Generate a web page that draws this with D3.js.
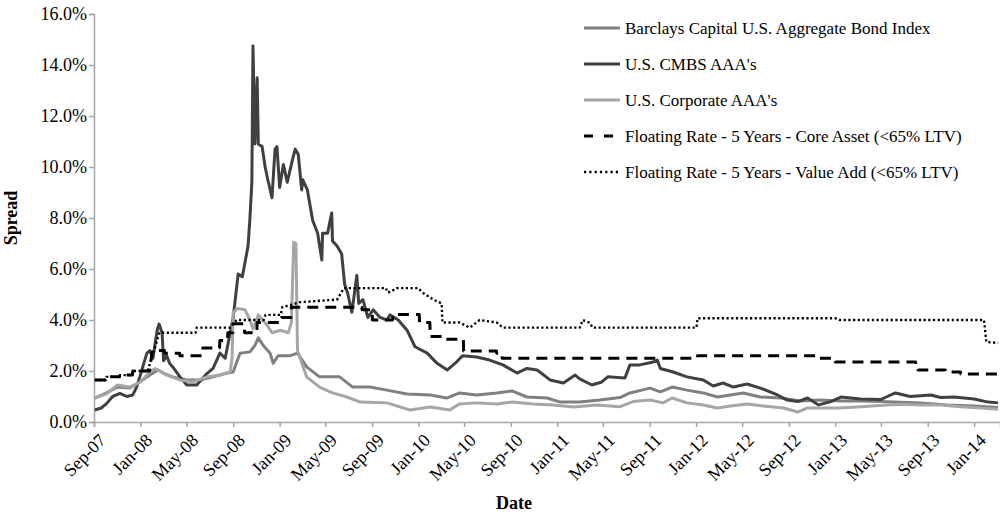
<!DOCTYPE html>
<html>
<head>
<meta charset="utf-8">
<script src="https://cdn.jsdelivr.net/npm/d3@7"></script>
<style>
  html, body { margin: 0; padding: 0; background: #fff; }
  svg { display: block; }
  text { font-family: "Liberation Serif", "Times New Roman", serif; fill: #000; }
</style>
</head>
<body>
<svg id="chart" width="1000" height="516"></svg>
<script>
const seriesNames = [
  "Barclays Capital U.S. Aggregate Bond Index",
  "U.S. CMBS AAA's",
  "U.S. Corporate AAA's",
  "Floating Rate - 5 Years - Core Asset (<65% LTV)",
  "Floating Rate - 5 Years - Value Add (<65% LTV)"
];
const yTicks = [0, 2, 4, 6, 8, 10, 12, 14, 16];
const xLabelFormat = "%b-%y";

const barclays = [["2007-09-03",0.94],["2007-10-04",1.14],["2007-11-01",1.37],["2007-12-04",1.33],["2007-12-30",1.57],["2008-01-26",1.84],["2008-02-16",2.04],["2008-03-01",1.92],["2008-03-26",1.77],["2008-05-02",1.65],["2008-06-05",1.65],["2008-07-10",1.77],["2008-08-16",1.92],["2008-09-01",1.96],["2008-09-09",2.3],["2008-09-19",2.7],["2008-10-15",2.75],["2008-10-28",3.0],["2008-11-06",3.3],["2008-11-19",3.0],["2008-12-07",2.7],["2008-12-15",2.3],["2008-12-28",2.6],["2009-01-29",2.6],["2009-02-17",2.7],["2009-03-13",2.16],["2009-04-16",1.77],["2009-06-08",1.77],["2009-07-12",1.37],["2009-08-26",1.37],["2009-10-10",1.25],["2009-12-02",1.1],["2010-02-01",1.06],["2010-03-16",0.94],["2010-04-19",1.14],["2010-06-03",1.06],["2010-07-26",1.14],["2010-09-04",1.22],["2010-10-13",0.98],["2010-12-05",0.94],["2011-01-09",0.78],["2011-03-01",0.78],["2011-04-23",0.86],["2011-06-15",0.96],["2011-07-11",1.14],["2011-09-02",1.33],["2011-09-29",1.18],["2011-10-30",1.37],["2011-12-08",1.25],["2012-01-20",1.14],["2012-02-26",0.98],["2012-03-31",1.06],["2012-05-04",1.14],["2012-06-18",0.98],["2012-08-10",0.94],["2012-10-01",0.82],["2012-11-23",0.86],["2013-01-16",0.82],["2013-03-08",0.82],["2013-04-30",0.8],["2013-06-21",0.77],["2013-08-13",0.75],["2013-10-23",0.67],["2014-01-01",0.63],["2014-03-05",0.57]];

const cmbs = [["2007-09-03",0.47],["2007-09-20",0.55],["2007-10-04",0.72],["2007-10-20",1.0],["2007-11-08",1.12],["2007-11-26",1.0],["2007-12-12",1.06],["2007-12-22",1.37],["2007-12-30",1.75],["2008-01-18",2.7],["2008-01-26",2.8],["2008-02-03",2.5],["2008-02-14",3.6],["2008-02-19",3.84],["2008-02-27",3.5],["2008-03-02",2.4],["2008-03-10",2.6],["2008-03-18",2.3],["2008-03-26",2.16],["2008-04-14",1.77],["2008-05-02",1.45],["2008-05-28",1.45],["2008-06-24",1.9],["2008-07-10",2.1],["2008-07-28",2.7],["2008-08-11",2.5],["2008-08-24",3.5],["2008-09-01",4.1],["2008-09-14",5.8],["2008-09-25",5.7],["2008-10-10",6.9],["2008-10-15",8.0],["2008-10-20",9.4],["2008-10-23",14.75],["2008-10-28",10.9],["2008-11-03",13.5],["2008-11-06",10.9],["2008-11-16",10.8],["2008-11-24",10.0],["2008-12-01",9.5],["2008-12-12",8.8],["2008-12-20",10.7],["2008-12-25",10.8],["2009-01-01",9.2],["2009-01-11",10.1],["2009-01-21",9.4],["2009-02-04",10.3],["2009-02-11",10.7],["2009-02-19",10.5],["2009-02-28",9.1],["2009-03-03",9.5],["2009-03-15",9.1],["2009-03-29",7.9],["2009-04-11",7.4],["2009-04-22",6.35],["2009-04-24",7.4],["2009-05-07",7.4],["2009-05-18",8.2],["2009-05-20",7.1],["2009-06-01",6.9],["2009-06-13",6.6],["2009-06-21",5.4],["2009-06-29",5.05],["2009-07-10",4.3],["2009-07-23",5.75],["2009-07-28",4.65],["2009-08-08",4.8],["2009-08-21",4.1],["2009-09-04",4.4],["2009-09-22",4.1],["2009-10-10",4.0],["2009-10-18",4.2],["2009-11-09",4.0],["2009-12-02",3.6],["2009-12-23",2.95],["2010-01-24",2.7],["2010-02-19",2.3],["2010-03-18",2.04],["2010-04-11",2.35],["2010-04-27",2.6],["2010-06-03",2.55],["2010-07-07",2.43],["2010-08-11",2.24],["2010-09-17",1.92],["2010-10-13",2.1],["2010-11-09",2.04],["2010-12-13",1.65],["2011-01-17",1.53],["2011-02-17",1.84],["2011-03-01",1.69],["2011-04-02",1.45],["2011-04-28",1.57],["2011-05-14",1.77],["2011-06-28",1.73],["2011-07-11",2.24],["2011-08-06",2.24],["2011-09-10",2.35],["2011-09-21",2.43],["2011-09-29",2.1],["2011-11-02",1.96],["2011-12-08",1.77],["2012-01-20",1.65],["2012-02-15",1.41],["2012-03-12",1.53],["2012-04-08",1.37],["2012-05-14",1.49],["2012-06-18",1.33],["2012-08-02",1.06],["2012-08-28",0.86],["2012-09-24",0.8],["2012-10-20",0.94],["2012-11-18",0.67],["2012-12-20",0.8],["2013-01-16",0.98],["2013-03-08",0.9],["2013-04-30",0.88],["2013-05-18",1.0],["2013-06-08",1.14],["2013-07-17",1.0],["2013-09-09",1.06],["2013-10-05",0.96],["2013-11-09",0.98],["2014-01-01",0.9],["2014-02-07",0.78],["2014-03-05",0.75]];

const corporate = [["2007-09-03",0.94],["2007-10-04",1.1],["2007-11-01",1.45],["2007-12-04",1.37],["2007-12-30",1.55],["2008-01-26",1.96],["2008-02-09",2.1],["2008-03-10",1.84],["2008-04-14",1.65],["2008-05-18",1.57],["2008-06-24",1.77],["2008-07-28",1.84],["2008-08-24",1.96],["2008-08-29",2.5],["2008-09-01",4.3],["2008-09-12",4.45],["2008-10-02",4.4],["2008-10-15",4.0],["2008-10-23",3.65],["2008-11-06",4.2],["2008-11-29",3.8],["2008-12-12",3.5],["2009-01-03",3.6],["2009-01-24",3.5],["2009-02-01",3.9],["2009-02-07",7.05],["2009-02-13",7.0],["2009-02-17",2.8],["2009-02-24",2.5],["2009-03-13",1.77],["2009-04-16",1.37],["2009-05-20",1.14],["2009-06-27",0.98],["2009-08-01",0.78],["2009-10-10",0.75],["2009-12-10",0.47],["2010-02-01",0.59],["2010-03-24",0.47],["2010-04-19",0.71],["2010-06-03",0.75],["2010-07-26",0.71],["2010-09-04",0.78],["2010-10-30",0.71],["2010-12-21",0.67],["2011-02-13",0.59],["2011-04-15",0.67],["2011-06-15",0.6],["2011-07-19",0.8],["2011-09-02",0.86],["2011-10-06",0.75],["2011-10-30",0.94],["2011-12-08",0.75],["2012-01-20",0.67],["2012-02-26",0.55],["2012-03-31",0.63],["2012-05-14",0.71],["2012-06-26",0.63],["2012-08-18",0.55],["2012-09-24",0.39],["2012-10-20",0.55],["2012-11-16",0.55],["2013-01-08",0.55],["2013-02-28",0.59],["2013-05-18",0.67],["2013-06-21",0.7],["2013-08-13",0.67],["2013-10-05",0.67],["2013-11-27",0.6],["2014-01-19",0.55],["2014-03-05",0.5]];

const coreAsset = [["2007-09-03",1.65],["2007-10-03",1.65],["2007-10-04",1.77],["2007-11-07",1.77],["2007-11-08",1.84],["2007-12-11",1.84],["2007-12-12",2.0],["2008-01-25",2.0],["2008-02-01",2.8],["2008-03-04",2.8],["2008-03-05",2.7],["2008-04-13",2.7],["2008-04-14",2.6],["2008-06-12",2.6],["2008-06-13",2.9],["2008-07-27",2.9],["2008-07-28",3.2],["2008-08-17",3.2],["2008-08-18",3.5],["2008-08-31",3.5],["2008-09-01",3.85],["2008-09-30",3.85],["2008-10-01",3.5],["2008-11-02",3.5],["2008-11-03",3.9],["2009-01-05",3.9],["2009-01-06",4.1],["2009-01-31",4.1],["2009-02-01",4.5],["2009-08-05",4.5],["2009-08-06",4.4],["2009-09-01",4.4],["2009-09-02",4.0],["2009-10-25",4.0],["2009-10-26",4.22],["2010-01-03",4.22],["2010-01-04",3.9],["2010-01-31",3.9],["2010-02-01",3.35],["2010-03-05",3.35],["2010-03-06",3.25],["2010-04-29",3.25],["2010-04-30",2.78],["2010-07-25",2.78],["2010-07-26",2.7],["2010-08-08",2.7],["2010-08-09",2.5],["2012-01-04",2.5],["2012-01-05",2.6],["2012-11-17",2.6],["2012-11-18",2.5],["2012-12-31",2.5],["2013-01-01",2.35],["2013-07-31",2.35],["2013-08-01",2.2],["2013-08-05",2.2],["2013-08-06",2.04],["2013-10-17",2.04],["2013-10-18",1.96],["2013-11-26",1.96],["2013-11-27",1.88],["2014-03-05",1.88]];

const valueAdd = [["2007-09-03",1.65],["2007-10-03",1.65],["2007-10-04",1.77],["2007-11-07",1.77],["2007-11-08",1.84],["2007-12-11",1.84],["2007-12-12",2.0],["2008-01-20",2.0],["2008-02-20",3.5],["2008-05-25",3.5],["2008-05-28",3.7],["2008-08-24",3.7],["2008-09-10",4.0],["2008-11-20",4.0],["2008-11-25",4.2],["2009-01-04",4.2],["2009-01-08",4.5],["2009-02-24",4.7],["2009-06-01",4.8],["2009-06-19",5.25],["2009-10-08",5.25],["2009-10-10",5.1],["2009-10-18",5.1],["2009-11-06",5.25],["2009-12-31",5.25],["2010-01-14",5.05],["2010-02-09",4.8],["2010-03-03",4.65],["2010-03-05",3.9],["2010-04-19",3.9],["2010-05-16",3.7],["2010-06-11",4.0],["2010-07-26",3.9],["2010-08-11",3.7],["2011-03-01",3.7],["2011-03-09",4.0],["2011-03-27",3.9],["2011-04-04",3.7],["2012-01-02",3.7],["2012-01-05",4.07],["2013-01-01",4.07],["2013-01-12",4.0],["2014-01-27",4.0],["2014-02-02",3.14],["2014-03-05",3.1]];

const styles = [
  { color: "#808080", width: 3, dash: null },
  { color: "#404040", width: 3, dash: null },
  { color: "#a6a6a6", width: 3, dash: null },
  { color: "#000000", width: 3, dash: "11,7" },
  { color: "#000000", width: 2.4, dash: "2.2,2.5" }
];
const allSeries = [barclays, cmbs, corporate, coreAsset, valueAdd];

const parse = d3.timeParse("%Y-%m-%d");
const svg = d3.select("#chart");

const x = d3.scaleTime()
  .domain([new Date(2007, 8, 1), new Date(2014, 2, 10)])
  .range([94, 1000]);
const y = d3.scaleLinear().domain([0, 16]).range([422, 14]);

const axisColor = "#a6a6a6";

// Y axis
const gy = svg.append("g").attr("transform", "translate(94,0)")
  .call(d3.axisLeft(y).tickValues(yTicks).tickSize(5).tickPadding(2)
    .tickFormat(d => d.toFixed(1) + "%"));
gy.select(".domain").attr("stroke", axisColor).attr("stroke-width", 1.5);
gy.selectAll(".tick line").attr("stroke", axisColor).attr("stroke-width", 1.5);
gy.selectAll(".tick text").style("font-size", "18px").style("font-family", "Liberation Serif");

// X axis
const gx = svg.append("g").attr("transform", "translate(0,422)")
  .call(d3.axisBottom(x).ticks(d3.timeMonth.every(4)).tickSize(5)
    .tickFormat(d3.timeFormat(xLabelFormat)));
gx.select(".domain").attr("stroke", axisColor).attr("stroke-width", 1.5);
gx.selectAll(".tick line").attr("stroke", axisColor).attr("stroke-width", 1.5);
gx.selectAll(".tick text")
  .style("font-size", "18px").style("font-family", "Liberation Serif")
  .attr("text-anchor", "end")
  .attr("x", 0).attr("y", 0).attr("dy", "0.35em")
  .attr("transform", "translate(8,15) rotate(-45)");

// Lines
const line = d3.line().x(d => x(parse(d[0]))).y(d => y(d[1]));
allSeries.forEach((s, i) => {
  const st = styles[i];
  const p = svg.append("path").datum(s)
    .attr("fill", "none")
    .attr("stroke", st.color)
    .attr("stroke-width", st.width)
    .attr("stroke-linejoin", "round")
    .attr("d", line);
  if (st.dash) p.attr("stroke-dasharray", st.dash);
});

// Axis titles
svg.append("text").attr("transform", "translate(17,218) rotate(-90)")
  .attr("text-anchor", "middle").style("font-size", "18px").style("font-weight", "bold")
  .text("Spread");
svg.append("text").attr("x", 514).attr("y", 509)
  .attr("text-anchor", "middle").style("font-size", "18px").style("font-weight", "bold")
  .text("Date");

// Legend
const legY = d3.scalePoint().domain(seriesNames).range([28, 172]);
const leg = svg.append("g");
seriesNames.forEach((n, i) => {
  const st = styles[i];
  const yy = legY(n);
  const l = leg.append("line").attr("x1", 584).attr("x2", 620).attr("y1", yy).attr("y2", yy)
    .attr("stroke", st.color).attr("stroke-width", st.width);
  if (i === 3) l.attr("stroke-dasharray", "9,11");
  if (i === 4) l.attr("stroke-dasharray", "2.2,3.1");
  leg.append("text").attr("x", 625).attr("y", yy).attr("dy", "0.35em")
    .style("font-size", "17px").text(n);
});
</script>
</body>
</html>
